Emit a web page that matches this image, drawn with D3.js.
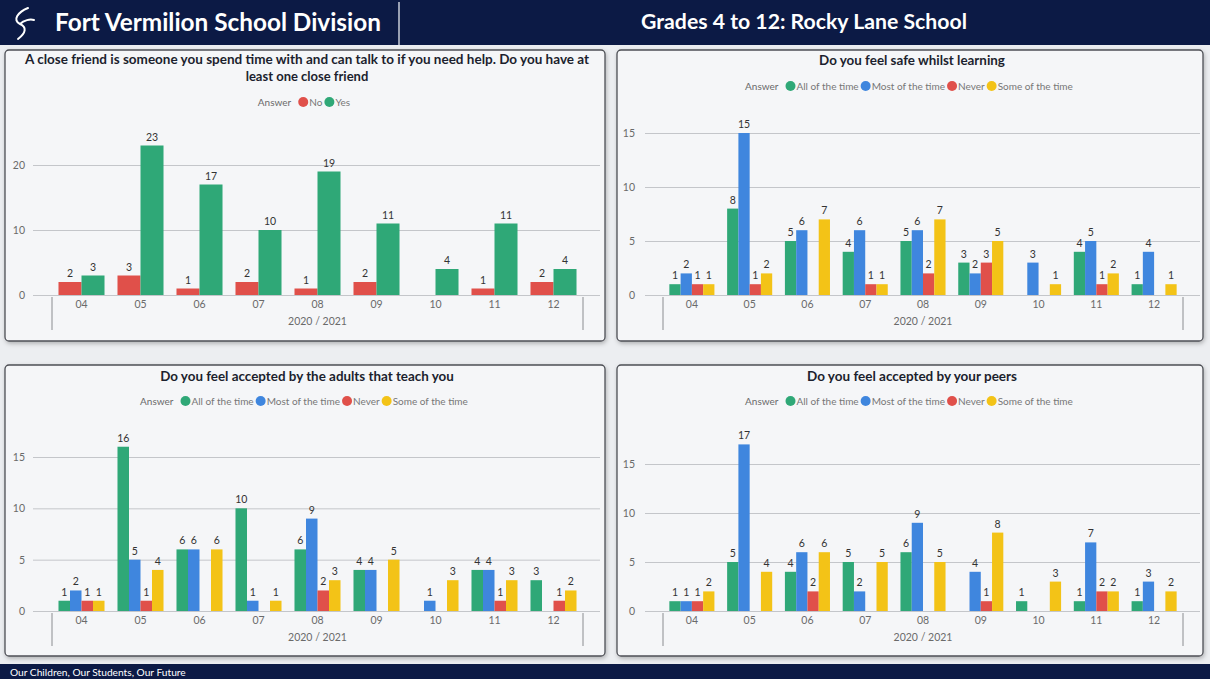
<!DOCTYPE html>
<html>
<head>
<meta charset="utf-8">
<script src="https://cdn.jsdelivr.net/npm/d3@7"></script>
<style>
  html, body { margin: 0; padding: 0; background: #eceef1; }
  svg { display: block; font-family: Lato, "Open Sans", sans-serif; }
</style>
</head>
<body>
<svg id="chart" width="1210" height="679"></svg>
<script>
// ---------- DATA ----------
const categories = ["04", "05", "06", "07", "08", "09", "10", "11", "12"];
const periodLabel = "2020 / 2021";

const friendKeys = ["No", "Yes"];
const friendNo  = [2, 3, 1, 2, 1, 2, null, 1, 2];
const friendYes = [3, 23, 17, 10, 19, 11, 4, 11, 4];

const answerKeys = ["All of the time", "Most of the time", "Never", "Some of the time"];

const safeAll   = [1, 8, 5, 4, 5, 3, null, 4, 1];
const safeMost  = [2, 15, 6, 6, 6, 2, 3, 5, 4];
const safeNever = [1, 1, null, 1, 2, 3, null, 1, null];
const safeSome  = [1, 2, 7, 1, 7, 5, 1, 2, 1];

const adultsAll   = [1, 16, 6, 10, 6, 4, null, 4, 3];
const adultsMost  = [2, 5, 6, 1, 9, 4, 1, 4, null];
const adultsNever = [1, 1, null, null, 2, null, null, 1, 1];
const adultsSome  = [1, 4, 6, 1, 3, 5, 3, 3, 2];

const peersAll   = [1, 5, 4, 5, 6, null, 1, 1, 1];
const peersMost  = [1, 17, 6, 2, 9, 4, null, 7, 3];
const peersNever = [1, null, 2, null, null, 1, null, 2, null];
const peersSome  = [2, 4, 6, 5, 5, 8, 3, 2, 2];

const friendTicks = [0, 10, 20];
const answerTicks = [0, 5, 10, 15];

// ---------- STYLE ----------
const colorFriend = { "No": "#e0504a", "Yes": "#2fa877" };
const colorAnswer = { "All of the time": "#2fa877", "Most of the time": "#3f86de", "Never": "#e0504a", "Some of the time": "#f3c317" };
const navy = "#0c1a45";

const svg = d3.select("#chart");

// background
svg.append("rect").attr("width", 1210).attr("height", 679).attr("fill", "#eceef1");

const defs = svg.append("defs");
const f = defs.append("filter").attr("id", "shadow").attr("x", "-5%").attr("y", "-5%").attr("width", "110%").attr("height", "115%");
f.append("feDropShadow").attr("dx", 1).attr("dy", 2).attr("stdDeviation", 2).attr("flood-color", "#000").attr("flood-opacity", 0.25);

// ---------- HEADER ----------
svg.append("rect").attr("x", 0).attr("y", 0).attr("width", 1210).attr("height", 45).attr("fill", navy);
svg.append("line").attr("x1", 399).attr("x2", 399).attr("y1", 2).attr("y2", 45).attr("stroke", "#c9ced8").attr("stroke-width", 1.5);
svg.append("path")
  .attr("d", "M28,8 C18,12 12,20 20,24 C27,27 26,33 18,39 M20,24 C24,20 30,19 34,20")
  .attr("fill", "none").attr("stroke", "#ffffff").attr("stroke-width", 2).attr("stroke-linecap", "round");

function fit(sel, w) {
  const cur = parseFloat(sel.attr("font-size"));
  const len = sel.node().getComputedTextLength();
  if (len > 0) sel.attr("font-size", (cur * w / len).toFixed(2));
  return sel;
}

fit(svg.append("text").attr("x", 55).attr("y", 31).attr("fill", "#fff")
  .attr("font-size", 22).attr("font-weight", 700).text("Fort Vermilion School Division"), 326);
fit(svg.append("text").attr("x", 804).attr("y", 29).attr("text-anchor", "middle").attr("fill", "#fff")
  .attr("font-size", 20).attr("font-weight", 700).text("Grades 4 to 12: Rocky Lane School"), 326);

// ---------- FOOTER ----------
svg.append("rect").attr("x", 0).attr("y", 664).attr("width", 1210).attr("height", 15).attr("fill", navy);
fit(svg.append("text").attr("x", 10).attr("y", 676).attr("fill", "#fff").attr("font-size", 10)
  .text("Our Children, Our Students, Our Future"), 176);

// ---------- CHART FUNCTION ----------
function drawChart(cfg) {
  const g = svg.append("g");
  g.append("rect").attr("x", cfg.panel[0]).attr("y", cfg.panel[1]).attr("width", cfg.panel[2]).attr("height", cfg.panel[3])
    .attr("rx", 4).attr("fill", "#f5f6f8").attr("stroke", "#4d4f55").attr("stroke-width", 1.3).attr("filter", "url(#shadow)");

  const cx = cfg.panel[0] + cfg.panel[2] / 2;
  cfg.title.forEach((t, i) => {
    const tt = g.append("text").attr("x", cx + (cfg.titleDx || 0)).attr("y", cfg.titleY + i * 16.5).attr("text-anchor", "middle")
      .attr("font-size", 13).attr("font-weight", 700).attr("fill", "#1c1f2e").text(t);
    if (cfg.titleW && cfg.titleW[i]) fit(tt, cfg.titleW[i]);
  });

  // legend
  const lg = g.append("g").attr("font-size", 10).attr("fill", "#666");
  let lx = 0;
  const items = [];
  const ans = lg.append("text").attr("x", 0).attr("y", cfg.legendY + 3.5).attr("fill", "#6a6a6a").text("Answer");
  lx = ans.node().getComputedTextLength() + 7;
  cfg.keys.forEach(k => {
    lg.append("circle").attr("cx", lx + 5).attr("cy", cfg.legendY).attr("r", 5).attr("fill", cfg.colors[k]);
    const t = lg.append("text").attr("x", lx + 11).attr("y", cfg.legendY + 3.5).attr("fill", "#777").text(k);
    lx += 11 + t.node().getComputedTextLength() + 2;
  });
  lg.attr("transform", `translate(${cx - lx / 2},0)`);

  // scales
  const y = d3.scaleLinear().domain(cfg.yDomain).range([cfg.zeroY, cfg.topY]);
  const x0 = d3.scaleBand().domain(categories).range(cfg.bandRange).paddingInner(0.22).paddingOuter(0.11);
  const x1 = d3.scaleBand().domain(cfg.keys).range([0, x0.bandwidth()]).padding(0);

  // y axis + grid
  const ya = g.append("g").attr("transform", `translate(${cfg.gridX[0]},0)`)
    .call(d3.axisLeft(y).tickValues(cfg.ticks).tickSize(-(cfg.gridX[1] - cfg.gridX[0])).tickPadding(cfg.tickPad));
  ya.select(".domain").remove();
  ya.selectAll(".tick line").attr("stroke", "#c4c6ca").attr("stroke-width", 1);
  ya.selectAll(".tick text").attr("fill", "#6a6a6a").attr("font-size", 10.5).attr("font-family", "Lato, sans-serif");

  // x axis
  const xa = g.append("g").attr("transform", `translate(0,${cfg.zeroY})`)
    .call(d3.axisBottom(x0).tickSize(0).tickPadding(6));
  xa.select(".domain").remove();
  xa.selectAll(".tick text").attr("fill", "#6a6a6a").attr("font-size", 10.5).attr("font-family", "Lato, sans-serif");
  cfg.bandRange.forEach(bx => {
    g.append("line").attr("x1", bx).attr("x2", bx).attr("y1", cfg.zeroY + 2).attr("y2", cfg.zeroY + 35)
      .attr("stroke", "#8a8c90").attr("stroke-width", 1);
  });
  g.append("text").attr("x", (cfg.bandRange[0] + cfg.bandRange[1]) / 2).attr("y", cfg.zeroY + 30)
    .attr("text-anchor", "middle").attr("font-size", 10.5).attr("fill", "#6a6a6a").text(periodLabel);

  // bars
  const rows = categories.map((c, i) => ({ cat: c, vals: cfg.keys.map((k, j) => ({ key: k, v: cfg.series[j][i] })) }));
  const grp = g.append("g").selectAll("g").data(rows).join("g")
    .attr("transform", d => `translate(${x0(d.cat)},0)`);
  const valid = d => d.vals.filter(v => v.v !== null && v.v !== undefined);
  grp.selectAll("rect").data(valid).join("rect")
    .attr("x", d => x1(d.key)).attr("width", x1.bandwidth())
    .attr("y", d => y(d.v)).attr("height", d => y(0) - y(d.v))
    .attr("fill", d => cfg.colors[d.key]);
  grp.selectAll("text").data(valid).join("text")
    .attr("x", d => x1(d.key) + x1.bandwidth() / 2).attr("y", d => y(d.v) - 5)
    .attr("text-anchor", "middle").attr("font-size", 10.5).attr("fill", "#333").text(d => d.v);
}

drawChart({
  panel: [5, 50, 600, 291],
  title: ["A close friend is someone you spend time with and can talk to if you need help. Do you have at", "least one close friend"],
  titleW: [564, 0], titleY: 64, titleDx: 2,
  legendY: 102, keys: friendKeys, colors: colorFriend, series: [friendNo, friendYes],
  yDomain: [0, 25], zeroY: 295, topY: 132.5, ticks: friendTicks,
  gridX: [33, 600], tickPad: 8, bandRange: [52, 583]
});

drawChart({
  panel: [617, 50, 586, 291],
  title: ["Do you feel safe whilst learning"], titleW: [186], titleY: 65, titleDx: 2,
  legendY: 86, keys: answerKeys, colors: colorAnswer, series: [safeAll, safeMost, safeNever, safeSome],
  yDomain: [0, 15], zeroY: 295, topY: 133, ticks: answerTicks,
  gridX: [645, 1200], tickPad: 10, bandRange: [663, 1183]
});

drawChart({
  panel: [5, 365, 600, 291],
  title: ["Do you feel accepted by the adults that teach you"], titleW: [294], titleY: 381, titleDx: 2,
  legendY: 401, keys: answerKeys, colors: colorAnswer, series: [adultsAll, adultsMost, adultsNever, adultsSome],
  yDomain: [0, 15], zeroY: 611, topY: 457, ticks: answerTicks,
  gridX: [33, 600], tickPad: 8, bandRange: [52, 583]
});

drawChart({
  panel: [617, 365, 586, 291],
  title: ["Do you feel accepted by your peers"], titleW: [210], titleY: 381, titleDx: 2,
  legendY: 401, keys: answerKeys, colors: colorAnswer, series: [peersAll, peersMost, peersNever, peersSome],
  yDomain: [0, 15], zeroY: 611, topY: 464, ticks: answerTicks,
  gridX: [645, 1200], tickPad: 10, bandRange: [663, 1183]
});
</script>
</body>
</html>
